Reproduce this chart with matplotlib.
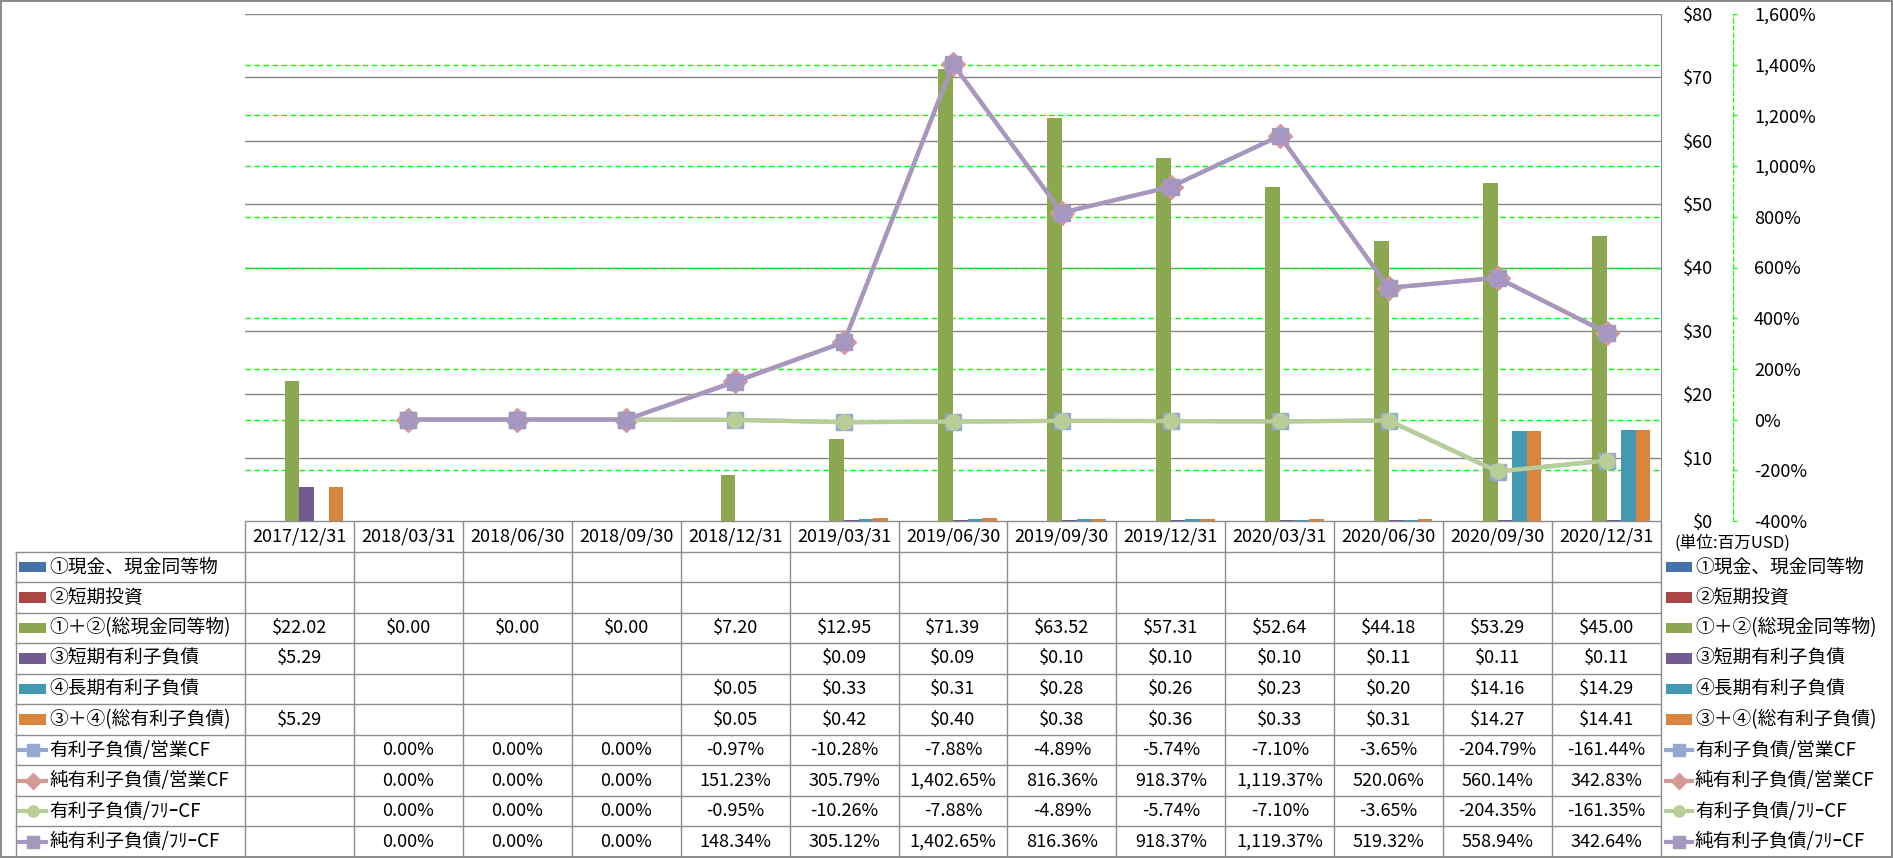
import numpy as np
import matplotlib.pyplot as plt
from matplotlib.patches import Rectangle
from matplotlib.transforms import blended_transform_factory

plt.rcParams['font.family'] = ['Noto Sans CJK JP', 'DejaVu Sans']

nan = np.nan

# Data (unit: million USD / %)
dates = ['2017/12/31', '2018/03/31', '2018/06/30', '2018/09/30', '2018/12/31',
         '2019/03/31', '2019/06/30', '2019/09/30', '2019/12/31', '2020/03/31',
         '2020/06/30', '2020/09/30', '2020/12/31']
cash = [nan] * 13
short_inv = [nan] * 13
total_cash = [22.02, 0.00, 0.00, 0.00, 7.20, 12.95, 71.39, 63.52, 57.31, 52.64, 44.18, 53.29, 45.00]
short_debt = [5.29, nan, nan, nan, nan, 0.09, 0.09, 0.10, 0.10, 0.10, 0.11, 0.11, 0.11]
long_debt = [nan, nan, nan, nan, 0.05, 0.33, 0.31, 0.28, 0.26, 0.23, 0.20, 14.16, 14.29]
total_debt = [5.29, nan, nan, nan, 0.05, 0.42, 0.40, 0.38, 0.36, 0.33, 0.31, 14.27, 14.41]

debt_ocf = [nan, 0.00, 0.00, 0.00, -0.97, -10.28, -7.88, -4.89, -5.74, -7.10, -3.65, -204.79, -161.44]
net_debt_ocf = [nan, 0.00, 0.00, 0.00, 151.23, 305.79, 1402.65, 816.36, 918.37, 1119.37, 520.06, 560.14, 342.83]
debt_fcf = [nan, 0.00, 0.00, 0.00, -0.95, -10.26, -7.88, -4.89, -5.74, -7.10, -3.65, -204.35, -161.35]
net_debt_fcf = [nan, 0.00, 0.00, 0.00, 148.34, 305.12, 1402.65, 816.36, 918.37, 1119.37, 519.32, 558.94, 342.64]

bar_series = [cash, short_inv, total_cash, short_debt, long_debt, total_debt]
bar_labels = ['①現金、現金同等物', '②短期投資', '①＋②(総現金同等物)',
              '③短期有利子負債', '④長期有利子負債', '③＋④(総有利子負債)']
bar_colors = ['#4672A8', '#AA4644', '#8BA74F', '#735A92', '#4399B1', '#DB843D']

line_series = [debt_ocf, net_debt_ocf, debt_fcf, net_debt_fcf]
line_labels = ['有利子負債/営業CF', '純有利子負債/営業CF', '有利子負債/ﾌﾘｰCF', '純有利子負債/ﾌﾘｰCF']
line_colors = ['#93A9CF', '#D49A98', '#B9CD96', '#A597BF']
line_markers = ['s', 'D', 'o', 's']
marker_sizes = [12, 12, 11, 11]
key_sizes = [8, 8, 8, 8]

W, H = 1893, 858
fig = plt.figure(figsize=(W / 100, H / 100), dpi=100, edgecolor='#8c8c8c', linewidth=1.5)


def box(x0, y0, x1, y1):
    return [x0 / W, 1 - y1 / H, (x1 - x0) / W, (y1 - y0) / H]


# Main chart
ax = fig.add_axes(box(245, 14, 1661, 521))
x = np.arange(len(dates))
bw = 0.134
for k, (vals, c) in enumerate(zip(bar_series, bar_colors)):
    ax.bar(x + (k - 2.5) * bw, vals, bw, color=c, zorder=3)
ax.set_xlim(-0.5, len(dates) - 0.5)
ax.set_ylim(0, 80)
ax.set_xticks([])
ax.set_yticks(range(0, 81, 10))
ax.set_yticklabels([f'${v}' for v in range(0, 81, 10)])
ax.yaxis.grid(True, color='#868686', lw=1, zorder=1)
ax.set_axisbelow(True)
for s in ['left', 'top', 'bottom']:
    ax.spines[s].set_visible(False)
ax.spines['right'].set_color('#868686')

# Secondary (%) axis
ax2 = ax.twinx()
ax2.set_ylim(-400, 1600)
pct_ticks = list(range(-400, 1601, 200))
ax2.set_yticks(pct_ticks)
ax2.set_yticklabels([f'{v:,}%' for v in pct_ticks])
for lab, v in zip(ax2.get_yticklabels(), pct_ticks):
    if v < 0:
        lab.set_color('red')
ax2.tick_params(axis='y', length=3, color='#00FF00', pad=12, labelsize=13)
ax2.spines['right'].set_position(('outward', 52))
ax2.spines['right'].set_color('#00FF00')
ax2.spines['right'].set_linestyle((0, (4, 2.5)))
for s in ['left', 'top', 'bottom']:
    ax2.spines[s].set_visible(False)

# $ labels on the right side, right-aligned next to the % axis
ax.tick_params(axis='y', left=False, right=False, labelleft=False, labelright=True,
               pad=34, labelsize=13)
for t in ax.yaxis.get_major_ticks():
    t.label2.set_horizontalalignment('right')

# % gridlines behind the bars
tr = blended_transform_factory(ax.transAxes, ax2.transData)
for p in pct_ticks[1:-1]:
    ax.plot([0, 1], [p, p], transform=tr, color='#00FF00', lw=1,
            ls=(0, (4, 2.5)), zorder=2)

for vals, c, m, ms in zip(line_series, line_colors, line_markers, marker_sizes):
    ax2.plot(x, vals, color=c, lw=3, marker=m, ms=ms, mfc=c, mec=c, zorder=4)

# Data table + legend
u0 = 245
cw = 1416 / len(dates)


def u(px):
    return -0.5 + (px - u0) / cw


tax = fig.add_axes(box(15, 521, 1890, 857))
tax.set_xlim(u(15), u(1890))
tax.set_ylim(11, 0)
tax.axis('off')

gc = '#8c8c8c'
tax.hlines(0, -0.5, len(dates) - 0.5, color=gc, lw=1)
tax.hlines(range(1, 12), u(15), len(dates) - 0.5, color=gc, lw=1)
tax.vlines(np.arange(len(dates) + 1) - 0.5, 0, 11, color=gc, lw=1)
tax.vlines(u(16), 1, 11, color=gc, lw=1)

for i, d in enumerate(dates):
    tax.text(i, 0.5, d, ha='center', va='center', fontsize=13)

rows = bar_series + line_series
for r, vals in enumerate(rows):
    is_pct = r >= len(bar_series)
    for i, v in enumerate(vals):
        if np.isnan(v):
            continue
        s = f'{v:,.2f}%' if is_pct else f'${v:,.2f}'
        tax.text(i, r + 1.5, s, ha='center', va='center', fontsize=13)


def legend_key(r, xa, xb, idx):
    y = r + 1.5
    if idx < len(bar_series):
        tax.add_patch(Rectangle((u(xa), y - 0.17), u(xb) - u(xa), 0.34,
                                color=bar_colors[idx], lw=0))
    else:
        j = idx - len(bar_series)
        tax.plot([u(xa), u(xb)], [y, y], color=line_colors[j], lw=3)
        tax.plot([(u(xa) + u(xb)) / 2], [y], color=line_colors[j],
                 marker=line_markers[j], ms=key_sizes[j])


labels = bar_labels + line_labels
for r, lab in enumerate(labels):
    legend_key(r, 19, 46, r)
    tax.text(u(49), r + 1.5, lab, ha='left', va='center', fontsize=13.5)
    legend_key(r, 1666, 1692, r)
    tax.text(u(1695), r + 1.5, lab, ha='left', va='center', fontsize=13.5)

tax.text(u(1675), 0.72, '(単位:百万USD)', ha='left', va='center', fontsize=12)

fig.savefig('out.png', dpi=100)
